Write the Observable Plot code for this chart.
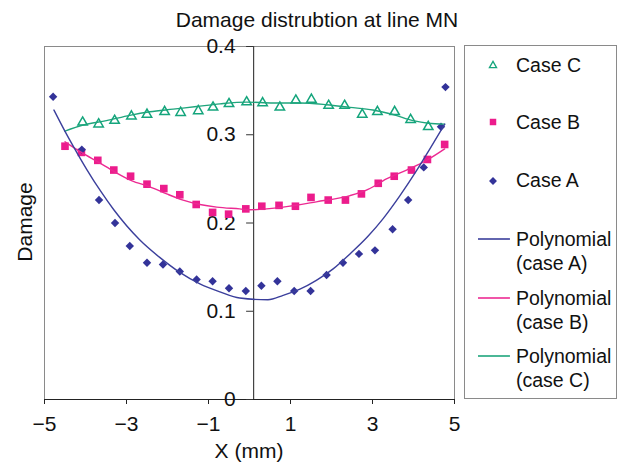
<!DOCTYPE html>
<html>
<head>
<meta charset="utf-8">
<script src="https://cdn.jsdelivr.net/npm/d3@7"></script>
<script src="https://cdn.jsdelivr.net/npm/@observablehq/plot@0.6"></script>
<style>
  html, body { margin: 0; padding: 0; background: #fff; }
  #wrap { position: relative; width: 626px; height: 468px; font-family: "Liberation Sans", Arial, Helvetica, sans-serif; }
  #wrap > svg { position: absolute; left: 0; top: 0; }
</style>
</head>
<body>
<div id="wrap"></div>
<script>
// ---- data ----
const titleText = "Damage distrubtion at line MN";
const xLabel = "X (mm)";
const yLabel = "Damage";
const xTicks = [-5, -3, -1, 1, 3, 5];
const yTicks = [0, 0.1, 0.2, 0.3, 0.4];
const yAxisCross = 0.1; // x value where the vertical axis crosses

const caseA_x = [-4.79,-4.09,-3.67,-3.28,-2.92,-2.50,-2.11,-1.70,-1.29,-0.90,-0.50,-0.09,0.29,0.68,1.09,1.49,1.88,2.28,2.67,3.06,3.49,3.87,4.25,4.67,4.78];
const caseA_y = [0.343,0.283,0.226,0.200,0.174,0.155,0.153,0.145,0.136,0.134,0.126,0.123,0.129,0.134,0.123,0.123,0.141,0.155,0.165,0.169,0.193,0.226,0.263,0.309,0.354];

const caseB_x = [-4.50,-4.10,-3.70,-3.31,-2.90,-2.50,-2.09,-1.70,-1.30,-0.90,-0.51,-0.09,0.30,0.72,1.12,1.50,1.92,2.34,2.73,3.14,3.53,3.95,4.34,4.76];
const caseB_y = [0.287,0.280,0.271,0.260,0.253,0.244,0.239,0.232,0.221,0.212,0.210,0.216,0.219,0.220,0.219,0.229,0.226,0.226,0.233,0.245,0.253,0.260,0.272,0.289];

const caseC_x = [-4.07,-3.68,-3.29,-2.88,-2.50,-2.07,-1.68,-1.25,-0.89,-0.50,-0.07,0.32,0.74,1.13,1.51,1.93,2.32,2.75,3.12,3.54,3.93,4.36];
const caseC_y = [0.314,0.312,0.316,0.321,0.323,0.326,0.325,0.327,0.331,0.335,0.337,0.336,0.331,0.339,0.340,0.333,0.333,0.323,0.326,0.326,0.317,0.309];

// polynomial trendlines
const fitA_x = [-4.77,-4.49,-4.20,-3.96,-3.63,-3.31,-2.68,-2.19,-1.70,-1.21,-0.72,-0.24,0.45,0.82,1.23,1.63,2.04,2.45,2.89,3.26,3.67,4.07,4.40,4.76];
const fitA_y = [0.328,0.303,0.279,0.260,0.236,0.215,0.181,0.161,0.144,0.131,0.122,0.115,0.113,0.118,0.125,0.135,0.148,0.165,0.185,0.205,0.231,0.259,0.284,0.312];

const fitB_x = [-4.50,-4.10,-3.69,-3.29,-2.88,-2.43,-2.02,-1.62,-1.21,-0.80,-0.24,0.01,0.82,1.63,2.45,2.89,3.34,3.83,4.32,4.76];
const fitB_y = [0.292,0.280,0.269,0.258,0.248,0.241,0.233,0.226,0.221,0.218,0.216,0.215,0.218,0.224,0.231,0.238,0.250,0.260,0.271,0.284];

const fitC_x = [-4.50,-4.06,-3.49,-2.92,-2.43,-1.86,-1.29,-0.72,-0.07,0.58,1.23,1.88,2.45,3.01,3.50,3.99,4.36,4.76];
const fitC_y = [0.304,0.311,0.316,0.322,0.326,0.329,0.332,0.335,0.337,0.336,0.336,0.334,0.331,0.328,0.323,0.316,0.313,0.312];

const legendLabels = ["Case C", "Case B", "Case A", ["Polynomial", "(case A)"], ["Polynomial", "(case B)"], ["Polynomial", "(case C)"]];

// ---- styles ----
const colA = "#333399", colB = "#ec1c8c", colC = "#14a57c";
const lineA = "#3b3f9c", lineB = "#ec2a92", lineC = "#1ea57c";
const font = "'Liberation Sans', Arial, Helvetica, sans-serif";

const zip = (xs, ys) => xs.map((x, i) => ({x, y: ys[i]}));
const A = zip(caseA_x, caseA_y), B = zip(caseB_x, caseB_y), C = zip(caseC_x, caseC_y);
const FA = zip(fitA_x, fitA_y), FB = zip(fitB_x, fitB_y), FC = zip(fitC_x, fitC_y);

const W = 626, H = 468, mL = 44, mR = 172, mT = 46, mB = 69;
const xDomain = [-5, 5];
const crossDx = (yAxisCross - xDomain[0]) / (xDomain[1] - xDomain[0]) * (W - mL - mR);

const chart = Plot.plot({
  width: W, height: H,
  marginLeft: mL, marginRight: mR, marginTop: mT, marginBottom: mB,
  style: {fontFamily: font, background: "transparent", color: "#000"},
  x: {domain: xDomain},
  y: {domain: [0, 0.4]},
  marks: [
    Plot.frame({stroke: "#8a8a8a", strokeWidth: 1}),
    Plot.ruleX([yAxisCross], {stroke: "#444", strokeWidth: 1.2}),
    Plot.ruleY([0], {stroke: "#222", strokeWidth: 1.2}),
    Plot.axisX({ticks: xTicks, tickSize: 5, tickPadding: 12, fontSize: 21, label: null, stroke: "#222", fill: "#111"}),
    Plot.axisY({anchor: "left", dx: crossDx, ticks: yTicks, tickSize: 7, tickPadding: 11, fontSize: 21, label: null,
      tickFormat: d => d === 0 ? "0" : d.toFixed(1), stroke: "#333", fill: "#111"}),
    Plot.dot(C, {x: "x", y: "y", symbol: "triangle", r: 3.5, stroke: colC, strokeWidth: 1.5, fill: "white"}),
    Plot.dot(B, {x: "x", y: "y", symbol: "square", r: 4.3, fill: colB, stroke: "none"}),
    Plot.dot(A, {x: "x", y: "y", symbol: "diamond2", r: 3.8, fill: colA, stroke: "none"}),
    Plot.line(FC, {x: "x", y: "y", stroke: lineC, strokeWidth: 1.4, curve: "monotone-x"}),
    Plot.line(FB, {x: "x", y: "y", stroke: lineB, strokeWidth: 1.4, curve: "monotone-x"}),
    Plot.line(FA, {x: "x", y: "y", stroke: lineA, strokeWidth: 1.4, curve: "monotone-x"})
  ]
});
const wrap = document.getElementById("wrap");
wrap.appendChild(chart);

// ---- overlay: title, axis titles and legend ----
const ov = d3.select(wrap).append("svg")
  .attr("width", W).attr("height", H)
  .style("font-family", font).style("pointer-events", "none");

ov.append("text").attr("x", 317).attr("y", 27).attr("text-anchor", "middle")
  .attr("font-size", 21).attr("fill", "#111").text(titleText);
ov.append("text").attr("x", 249).attr("y", 458).attr("text-anchor", "middle")
  .attr("font-size", 21).attr("fill", "#111").text(xLabel);
ov.append("text").attr("transform", "translate(32,222) rotate(-90)").attr("text-anchor", "middle")
  .attr("font-size", 21).attr("fill", "#111").text(yLabel);

// legend box
ov.append("rect").attr("x", 464.5).attr("y", 45.5).attr("width", 152).attr("height", 353)
  .attr("fill", "none").attr("stroke", "#8a8a8a");

const lg = ov.append("g").attr("font-size", 19.5).attr("fill", "#111");
const rowY = [65, 122, 180, 239, 298, 356];
const textX = 516, symX = 493;
// symbols
lg.append("path").attr("d", d3.symbol(d3.symbolTriangle, 22)()).attr("transform", `translate(${symX},${rowY[0] + 0.5})`)
  .attr("fill", "white").attr("stroke", colC).attr("stroke-width", 1.3);
lg.append("path").attr("d", d3.symbol(d3.symbolSquare, 42)()).attr("transform", `translate(${symX},${rowY[1]})`)
  .attr("fill", colB);
lg.append("path").attr("d", d3.symbol(d3.symbolDiamond2, 40)()).attr("transform", `translate(${symX},${rowY[2] + 1})`)
  .attr("fill", colA);
[lineA, lineB, lineC].forEach((c, i) => {
  lg.append("line").attr("x1", 478).attr("x2", 510).attr("y1", rowY[3 + i]).attr("y2", rowY[3 + i])
    .attr("stroke", c).attr("stroke-width", 1.6);
});
legendLabels.forEach((lab, i) => {
  if (Array.isArray(lab)) {
    lg.append("text").attr("x", textX).attr("y", rowY[i] + 7).text(lab[0]);
    lg.append("text").attr("x", textX).attr("y", rowY[i] + 7 + 24).text(lab[1]);
  } else {
    lg.append("text").attr("x", textX).attr("y", rowY[i] + 7).text(lab);
  }
});
</script>
</body>
</html>
